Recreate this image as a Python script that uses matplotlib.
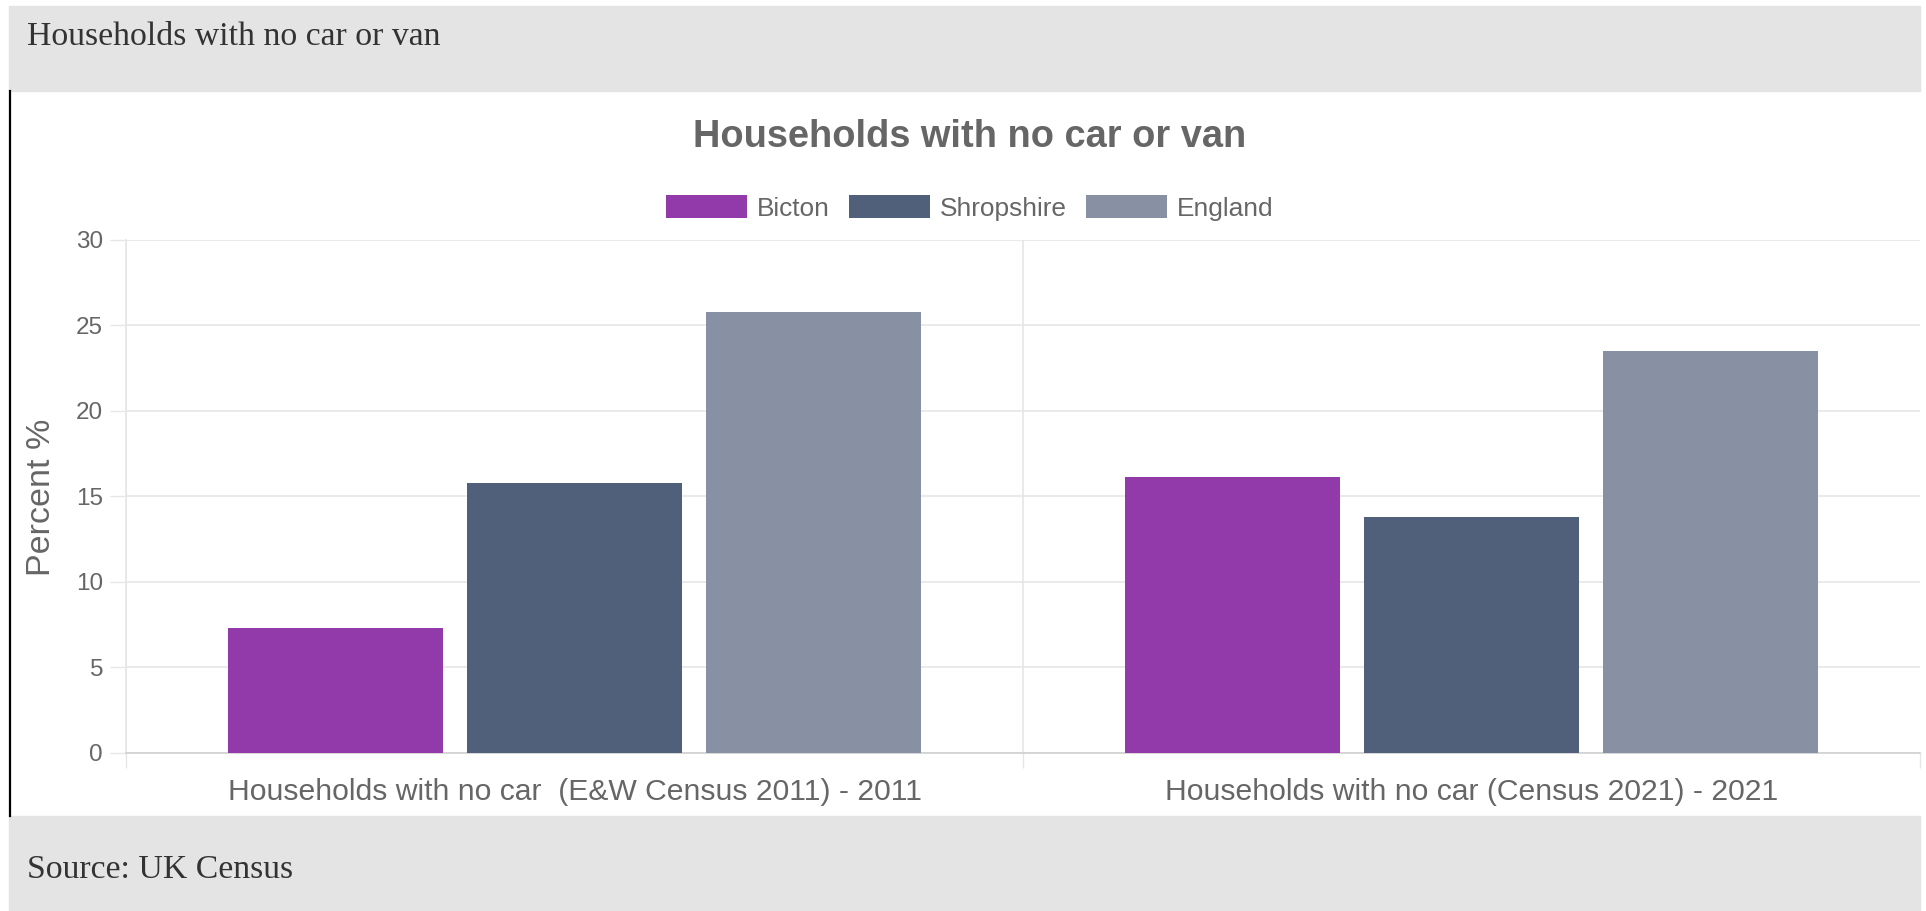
import matplotlib
matplotlib.use("Agg")
from matplotlib import pyplot as plt
from matplotlib.patches import Rectangle, Patch
from matplotlib.lines import Line2D
import numpy as np

# data
categories = ["Households with no car  (E&W Census 2011) - 2011",
              "Households with no car (Census 2021) - 2021"]
series_names = ["Bicton", "Shropshire", "England"]
bicton = [7.3, 16.1]
shropshire = [15.8, 13.8]
england = [25.8, 23.5]
y_ticks = [0, 5, 10, 15, 20, 25, 30]

colors = ["#923AA9", "#50607A", "#8791A3"]
text_grey = "#666666"
grid_grey = "#E6E6E6"
band_grey = "#E4E4E4"

W, H = 1926, 911
fig = plt.figure(figsize=(W / 100, H / 100), dpi=100)
fig.patch.set_facecolor("white")

# grey header / footer bands
fig.patches.append(Rectangle((9 / W, 1 - 91 / H), (1920 - 9) / W, 85 / H,
                             transform=fig.transFigure, color=band_grey, zorder=0))
fig.patches.append(Rectangle((9 / W, 0), (1920 - 9) / W, (911 - 816) / H,
                             transform=fig.transFigure, color=band_grey, zorder=0))
fig.lines.append(Line2D([10 / W, 10 / W], [1 - 91 / H, 1 - 816 / H],
                        transform=fig.transFigure, color="black", lw=1.6))

fig.text(27 / W, 1 - 37 / H, "Households with no car or van", family="Liberation Serif",
         fontsize=24.3, color="#333333", ha="left", va="center")
fig.text(27 / W, 1 - 870 / H, "Source: UK Census", family="Liberation Serif",
         fontsize=24.3, color="#333333", ha="left", va="center")

ax = fig.add_axes([126 / W, 1 - 752.5 / H, (1920 - 126) / W, (752.5 - 240) / H])

x = np.arange(len(categories))
slot = 0.8 / 3
width = slot * 0.9
for i, (vals, name) in enumerate(zip([bicton, shropshire, england], series_names)):
    ax.bar(x + (i - 1) * slot, vals, width, color=colors[i], label=name, zorder=3)

ax.set_xlim(-0.5, len(categories) - 0.5)
ax.set_ylim(0, 30)
ax.set_yticks(y_ticks)
ax.set_yticklabels([str(t) for t in y_ticks], family="Liberation Sans", fontsize=17.5,
                   color=text_grey)
ax.tick_params(axis="y", length=11.5, width=1, color=grid_grey, pad=5)
ax.grid(axis="y", color=grid_grey, lw=1.2, zorder=0)

ax.set_xticks(x)
ax.set_xticklabels(categories, family="Liberation Sans", fontsize=21.7, color=text_grey)
ax.tick_params(axis="x", length=0, pad=18.5)
ax.set_xticks(np.arange(len(categories) + 1) - 0.5, minor=True)
ax.tick_params(axis="x", which="minor", length=11, width=1, color=grid_grey)
for xv in np.arange(len(categories)) - 0.5:
    ax.axvline(xv, color=grid_grey, lw=1.2, zorder=0)

for side in ["top", "right"]:
    ax.spines[side].set_visible(False)
ax.spines["left"].set_color(grid_grey)
ax.spines["bottom"].set_color("#D0D0D0")
ax.spines["left"].set_linewidth(1.2)
ax.spines["bottom"].set_linewidth(1.2)

fig.text(41 / W, 1 - 497 / H, "Percent %", rotation=90, family="Liberation Sans",
         fontsize=24.5, color=text_grey, ha="center", va="center")

fig.text(970 / W, 1 - 137 / H, "Households with no car or van", family="Liberation Sans",
         fontsize=27.4, fontweight="bold", color=text_grey, ha="center", va="center")

handles = [Patch(facecolor=c, edgecolor="none") for c in colors]
leg = fig.legend(handles, series_names, loc="center", bbox_to_anchor=(969.5 / W, 1 - 208 / H),
                 ncol=3, frameon=False, borderpad=0, handlelength=3.08, handleheight=0.96,
                 handletextpad=0.38, columnspacing=0.73,
                 prop={"family": "Liberation Sans", "size": 18.9})
for t in leg.get_texts():
    t.set_color(text_grey)

fig.savefig("out.png", dpi=100)
